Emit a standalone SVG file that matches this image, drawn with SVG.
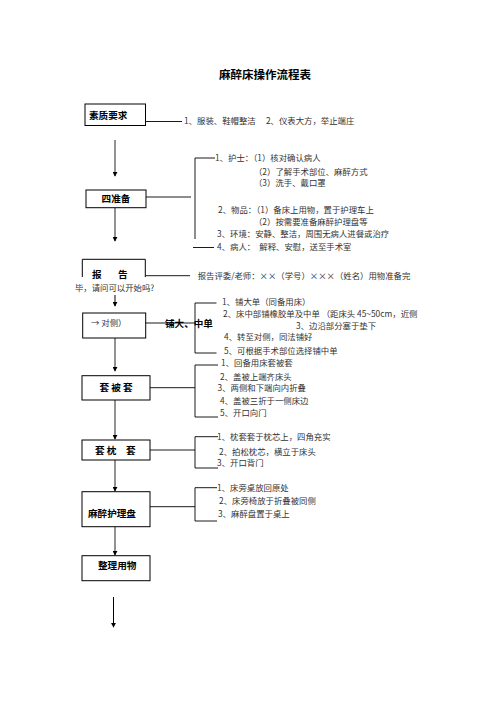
<svg xmlns="http://www.w3.org/2000/svg" width="496" height="702" viewBox="0 0 496 702">
<defs>
<style>
.t{font-family:"Noto Sans CJK SC","Liberation Serif",serif;font-size:8.4px;fill:#333}
.b{font-family:"Noto Sans CJK SC","Liberation Sans",sans-serif;font-size:9.6px;font-weight:bold;fill:#000}
.box{fill:none;stroke:#000;stroke-width:1}
.ln{fill:none;stroke:#000;stroke-width:0.9}
.ar{fill:none;stroke:#777;stroke-width:1.6}
.ak{fill:none;stroke:#000;stroke-width:1}
</style>
<marker id="ah" viewBox="0 0 6 6" refX="5" refY="3" markerWidth="5" markerHeight="5" markerUnits="userSpaceOnUse" orient="auto">
<path d="M0,0 L6,3 L0,6 Z" fill="#000"/>
</marker>
</defs>
<rect width="496" height="702" fill="#fff"/>
<text x="265" y="79" text-anchor="middle" font-family="Noto Sans CJK SC, sans-serif" font-size="11.5" font-weight="bold">麻醉床操作流程表</text>

<g id="connectors">
<line class="ar" x1="115" y1="140" x2="115" y2="176" marker-end="url(#ah)"/>
<line class="ar" x1="115" y1="208" x2="115" y2="241" marker-end="url(#ah)"/>
<line class="ak" x1="115" y1="295" x2="115" y2="306" marker-end="url(#ah)"/>
<line class="ar" x1="115" y1="338" x2="115" y2="371" marker-end="url(#ah)"/>
<line class="ar" x1="115" y1="400" x2="115" y2="439" marker-end="url(#ah)"/>
<line class="ar" x1="115" y1="460" x2="115" y2="491" marker-end="url(#ah)"/>
<line class="ar" x1="115" y1="527" x2="115" y2="555" marker-end="url(#ah)"/>
<line class="ak" x1="113.5" y1="597" x2="113.5" y2="627" marker-end="url(#ah)"/>
<line class="ln" x1="145.5" y1="121.5" x2="182" y2="121.5"/>
<line class="ln" x1="146" y1="197" x2="191" y2="197"/>
<path class="ln" d="M215,158 H195 V239"/>
<line class="ln" x1="193" y1="247.5" x2="214" y2="247.5"/>
<line class="ln" x1="145.5" y1="275.7" x2="190" y2="275.7"/>
<line class="ln" x1="145.5" y1="323" x2="195" y2="323"/>
<path class="ln" d="M216.5,303 H195 V353 H216.5"/>
<line class="ln" x1="150" y1="387.7" x2="195" y2="387.7"/>
<path class="ln" d="M218,365 H195 V417 H218"/>
<line class="ln" x1="150" y1="450" x2="195" y2="450"/>
<path class="ln" d="M218,436.7 H195 V468 H218"/>
<line class="ln" x1="150" y1="506.7" x2="195" y2="506.7"/>
<path class="ln" d="M217,487.7 H195 V521 H217"/>
</g>

<g id="n1">
<rect class="box" x="85" y="104" width="60.5" height="21.5"/>
<text class="b" x="89" y="118.5">素质要求</text>
<text class="t" x="184" y="124">1、服装、鞋帽整洁　 2、仪表大方，举止端庄</text>
</g>

<g id="n2">
<rect class="box" x="86" y="190" width="60" height="17.7"/>
<text class="b" x="116" y="202.3" text-anchor="middle">四准备</text>
<text class="t" x="215" y="161">1、护士：（1）核对确认病人</text>
<text class="t" x="254" y="175">（2）了解手术部位、麻醉方式</text>
<text class="t" x="254" y="186">（3）洗手、戴口罩</text>
<text class="t" x="218" y="213">2、物品：（1）备床上用物，置于护理车上</text>
<text class="t" x="254" y="224.5">（2）按需要准备麻醉护理盘等</text>
<text class="t" x="217" y="237">3、环境：安静、整洁，周围无病人进餐或治疗</text>
<text class="t" x="217" y="250">4、病人：　解释、安慰，送至手术室</text>
</g>

<g id="n3">
<path class="box" d="M82.3,277 V259.3 H145.3 V277"/>
<text class="b" x="92" y="278">报</text>
<text class="b" x="118" y="278">告</text>
<text class="t" x="197.7" y="279">报告评委/老师：××（学号）×××（姓名）用物准备完</text>
<text class="t" x="75" y="291">毕，请问可以开始吗?</text>
</g>

<g id="n4">
<rect class="box" x="82.7" y="313" width="63" height="25"/>
<text class="t" x="91" y="326">→ 对侧）</text>
<text class="b" x="165" y="326.5" font-size="10.5">铺大、中单</text>
<text class="t" x="222" y="305">1、铺大单（同备用床）</text>
<text class="t" x="223" y="316.5">2、床中部铺橡胶单及中单 （距床头 45~50cm，近侧</text>
<text class="t" x="296" y="329">3、边沿部分塞于垫下</text>
<text class="t" x="224" y="340">4、转至对侧，同法铺好</text>
<text class="t" x="224" y="354">5、可根据手术部位选择铺中单</text>
</g>

<g id="n5">
<rect class="box" x="82" y="375.7" width="68" height="24.3"/>
<text class="b" x="116" y="391" text-anchor="middle">套 被 套</text>
<text class="t" x="221" y="366">1、回备用床套被套</text>
<text class="t" x="220" y="379.5">2、盖被上端齐床头</text>
<text class="t" x="217.5" y="391">3、两侧和下端向内折叠</text>
<text class="t" x="220" y="404">4、盖被三折于一侧床边</text>
<text class="t" x="220" y="416">5、开口向门</text>
</g>

<g id="n6">
<rect class="box" x="82" y="440" width="68" height="20"/>
<text class="b" x="95" y="453.5">套 枕　套</text>
<text class="t" x="217" y="440">1、枕套套于枕芯上，四角充实</text>
<text class="t" x="219" y="454.5">2、拍松枕芯，横立于床头</text>
<text class="t" x="217" y="466">3、开口背门</text>
</g>

<g id="n7">
<rect class="box" x="82" y="491.7" width="68" height="35"/>
<text class="b" x="88" y="517">麻醉护理盘</text>
<text class="t" x="217" y="491">1、床旁桌放回原处</text>
<text class="t" x="219" y="504">2、床旁椅放于折叠被同侧</text>
<text class="t" x="218" y="517">3、麻醉盘置于桌上</text>
</g>

<g id="n8">
<rect class="box" x="82" y="555.7" width="68" height="25"/>
<text class="b" x="98" y="569">整理用物</text>
</g>
</svg>
